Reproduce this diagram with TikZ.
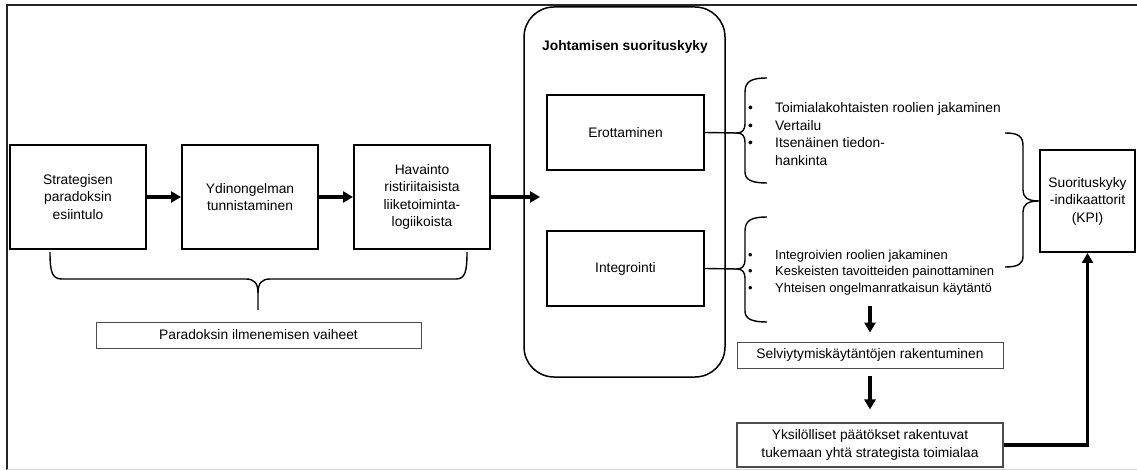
\documentclass[tikz,border=0pt]{standalone}
\usepackage{fontspec}
\setmainfont{Liberation Sans}
\usetikzlibrary{arrows.meta}
\tikzset{
  stepbox/.style={draw, line width=2pt, minimum width=136pt, minimum height=104pt, align=center, inner sep=2pt},
  modebox/.style={draw, line width=1.5pt, minimum width=157pt, minimum height=75pt},
  notebox/.style={draw=black!70, line width=0.9pt, align=center},
  arr/.style={line width=3.2pt, -{Triangle[length=10pt,width=11pt]}},
  brc/.style={line width=1.4pt},
}
\begin{document}
\begin{tikzpicture}[x=1pt, y=-1pt, font=\fontsize{13.8}{17.5}\selectfont]
\useasboundingbox (0,0) rectangle (1137,470);
% frame
\draw[line width=1.6pt, black!85] (7,470) -- (7,5) -- (1137,5);
\draw[black!15] (7,469) -- (1137,469);
% phases of the paradox
\node[stepbox] (s1) at (78,197) {Strategisen\\paradoksin\\esiintulo};
\node[stepbox] (s2) at (250,197) {Ydinongelman\\tunnistaminen};
\node[stepbox] (s3) at (422,197) {Havainto\\ristiriitaisista\\liiketoiminta-\\logiikoista};
\node[notebox, minimum width=325pt, minimum height=26pt] (vaih) at (258.5,335) {Paradoksin ilmenemisen vaiheet};
\coordinate (b0) at (258,310);
\draw[brc] (50,252) .. controls (50,272) and (52,279) .. (62,279) -- (246,279) .. controls (254,279) and (258,283) .. (258,293) -- (b0);
\draw[brc] (258,293) .. controls (258,283) and (262,279) .. (270,279) -- (456,279) .. controls (465,279) and (467,272) .. (467,252);
% management performance
\node[draw, line width=1.5pt, rounded corners=30pt, minimum width=201pt, minimum height=370pt] (johto) at (624.5,192) {};
\node[font=\fontsize{13.8}{17}\selectfont\bfseries] (johtot) at (625,47) {Johtamisen suorituskyky};
\node[modebox] (ero) at (625.5,132.5) {Erottaminen};
\node[modebox] (int) at (625.5,268.5) {Integrointi};
\coordinate (inn) at (540,197);
\draw[arr] (s1) -- (s2);
\draw[arr] (s2) -- (s3);
\draw[arr] (s3) -- (inn);
% practices
\coordinate (b1) at (737,133);
\coordinate (b2) at (737,269);
\draw[brc] (ero.east) -- (b1);
\draw[brc] (int.east) -- (b2);
\draw[brc] (767,78) .. controls (752,78) and (745,81) .. (745,92) -- (745,124) .. controls (745,130) and (742,133) .. (b1) .. controls (742,133) and (745,136) .. (745,142) -- (745,172) .. controls (745,180) and (752,183) .. (767,183);
\draw[brc] (767,217) .. controls (752,217) and (745,220) .. (745,231) -- (745,260) .. controls (745,266) and (742,269) .. (b2) .. controls (742,269) and (745,272) .. (745,278) -- (745,311) .. controls (745,319) and (752,322) .. (767,322);
\node[anchor=base west, inner sep=0pt] (lista1) at (748,113) {\begin{tabular}[t]{@{}p{27pt}@{}l@{}}• & Toimialakohtaisten roolien jakaminen\\ • & Vertailu\\ • & Itsenäinen tiedon-\\ & hankinta\end{tabular}};
\node[anchor=base west, inner sep=0pt, font=\fontsize{13}{16.5}\selectfont] (lista2) at (748,259) {\begin{tabular}[t]{@{}p{27pt}@{}l@{}}• & Integroivien roolien jakaminen\\ • & Keskeisten tavoitteiden painottaminen\\ • & Yhteisen ongelmanratkaisun käytäntö\end{tabular}};
% KPI
\node[stepbox, minimum width=95pt, minimum height=102pt] (kpi) at (1087.5,201) {Suorituskyky\\-indikaattorit\\(KPI)};
\draw[brc] (1005,133) .. controls (1018,133) and (1023,136) .. (1023,146) -- (1023,190) .. controls (1023,197) and (1027,201) .. (kpi.west) .. controls (1027,201) and (1023,205) .. (1023,212) -- (1023,256) .. controls (1023,264) and (1018,267) .. (1005,267);
% outcomes
\node[notebox, minimum width=266pt, minimum height=26pt] (selv) at (870,355) {Selviytymiskäytäntöjen rakentuminen};
\node[notebox, line width=1.1pt, minimum width=266pt, minimum height=44pt] (yks) at (870,445) {Yksilölliset päätökset rakentuvat\\tukemaan yhtä strategista toimialaa};
\coordinate (d1) at (870,306);
\draw[arr, shorten >=9pt] (d1) -- (selv.north);
\draw[arr, shorten <=8pt, shorten >=13pt] (selv) -- (yks);
\draw[arr] (yks.east) -| (kpi.south);
\end{tikzpicture}
\end{document}
